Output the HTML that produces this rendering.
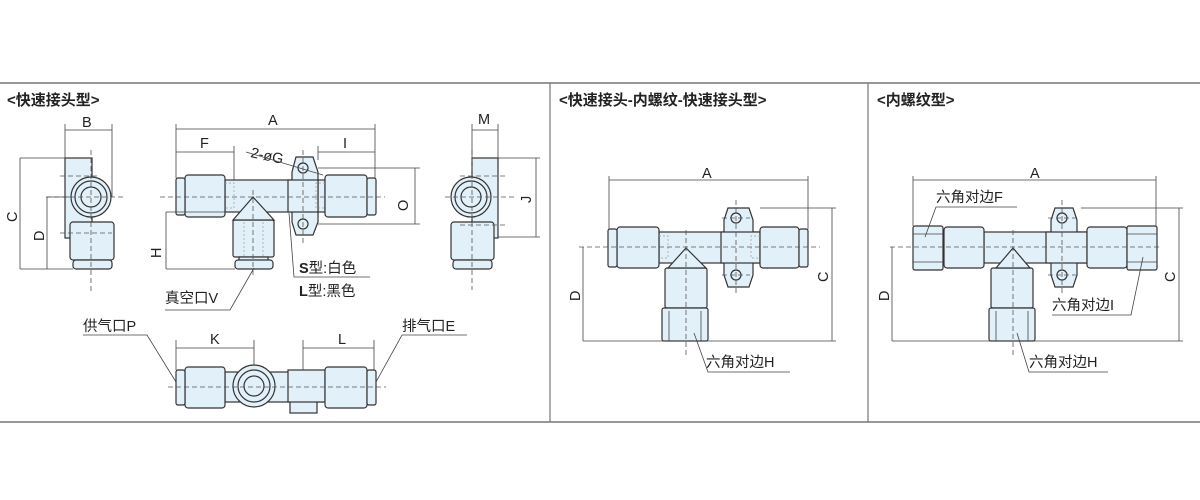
<!DOCTYPE html>
<html><head><meta charset="utf-8"><style>
html,body{margin:0;padding:0;background:#fff;}
svg{display:block}
text{font-family:"Liberation Sans","Noto Sans CJK SC",sans-serif;fill:#222;}
.t{font-size:15px;font-weight:bold}
.l{font-size:14.5px}
.p{fill:#e2f1f9;stroke:#333;stroke-width:1.2}
.d{stroke:#444;stroke-width:0.8;fill:none}
.c{stroke:#555;stroke-width:0.8;stroke-dasharray:5,3;fill:none}
.h{stroke:#999;stroke-width:0.7;stroke-dasharray:2,2;fill:none}
</style></head><body>
<svg width="1200" height="500" viewBox="0 0 1200 500">
<rect width="1200" height="500" fill="#fff"/>
<line x1="0" y1="83" x2="1200" y2="83" stroke="#777" stroke-width="1.5"/>
<line x1="0" y1="422" x2="1200" y2="422" stroke="#777" stroke-width="1.5"/>
<line x1="550" y1="83" x2="550" y2="422" stroke="#777" stroke-width="1.2"/>
<line x1="868" y1="83" x2="868" y2="422" stroke="#777" stroke-width="1.2"/>
<text class="t" x="7" y="105">&lt;快速接头型&gt;</text>
<text class="t" x="559" y="105">&lt;快速接头-内螺纹-快速接头型&gt;</text>
<text class="t" x="877" y="105">&lt;内螺纹型&gt;</text>

<!-- Panel1 left side view -->
<rect class="p" x="65" y="158" width="27" height="80"/>
<rect class="p" x="70" y="222" width="44" height="38" rx="3"/>
<rect class="p" x="73" y="260" width="39" height="9" rx="3"/>
<circle class="p" cx="91" cy="197" r="20"/>
<circle class="p" cx="91" cy="197" r="16"/>
<circle class="p" cx="91" cy="197" r="10"/>
<line class="c" x1="46" y1="197" x2="124" y2="197"/>
<line class="c" x1="91" y1="150" x2="91" y2="292"/>
<line class="c" x1="60" y1="176" x2="100" y2="176"/>
<line class="c" x1="60" y1="233" x2="112" y2="233"/>
<path class="d" d="M65 158V124M112 197V124M65 130H112M20 158H65M20 269H73M20 158V269M47 197H70M47 197V269"/>
<text class="l" x="82" y="127">B</text>
<text class="l" transform="translate(17,222) rotate(-90)">C</text>
<text class="l" transform="translate(44,241) rotate(-90)">D</text>

<!-- Panel1 main view -->
<rect class="p" x="225" y="180" width="100" height="32"/>
<polygon class="p" points="296,157 313,157 318,172 318,222 313,235 296,235 292,222 292,172"/>
<rect class="p" x="288" y="180" width="30" height="32"/>
<circle class="p" cx="303" cy="168" r="5"/><circle class="p" cx="303" cy="224" r="5"/>
<rect class="p" x="185" y="175" width="40" height="42" rx="3"/>
<rect class="p" x="176" y="178" width="9" height="37" rx="2"/>
<rect class="p" x="325" y="175" width="42" height="42" rx="3"/>
<rect class="p" x="367" y="178" width="9" height="37" rx="2"/>
<rect class="p" x="233" y="220" width="41" height="37" rx="2"/>
<polygon class="p" points="253,197 233,220 274,220"/>
<rect class="p" x="239" y="257" width="29" height="4"/>
<rect class="p" x="235" y="260" width="38" height="9" rx="3"/>
<path class="h" d="M225 183H234V208H225M325 183H316V208H325M244 222V256M263 222V256"/>
<line class="c" x1="160" y1="197" x2="385" y2="197"/>
<line class="c" x1="253" y1="190" x2="253" y2="277"/>
<line class="c" x1="303" y1="150" x2="303" y2="244"/>
<path class="d" d="M176 178V124M375 178V124M176 129H375M234 180V146M176 152H234M318 160V146M375 152H318M318 168H420M318 224H420M415 168V224M166 212H225M166 269H235M166 212V269"/>
<text class="l" x="268" y="125">A</text>
<text class="l" x="200" y="148">F</text>
<text class="l" x="343" y="148">I</text>
<text class="l" transform="translate(408,211) rotate(-90)">O</text>
<text class="l" transform="translate(161,258) rotate(-90)">H</text>
<text class="l" transform="translate(250,157) rotate(12)">2-øG</text>
<path class="d" d="M246 152L323 175"/>
<path class="d" d="M289 213L294 277H370"/>
<text class="l" x="299" y="273"><tspan font-weight="bold">S</tspan>型:白色</text>
<text class="l" x="299" y="296"><tspan font-weight="bold">L</tspan>型:黑色</text>
<path class="d" d="M254 268L230 310H165"/>
<text class="l" x="165" y="303">真空口V</text>

<!-- Panel1 right side view -->
<rect class="p" x="472" y="158" width="26" height="80"/>
<rect class="p" x="451" y="222" width="43" height="38" rx="3"/>
<rect class="p" x="453" y="260" width="39" height="9" rx="3"/>
<circle class="p" cx="471" cy="197" r="20"/>
<circle class="p" cx="471" cy="197" r="16"/>
<circle class="p" cx="471" cy="197" r="10"/>
<line class="c" x1="445" y1="197" x2="515" y2="197"/>
<line class="c" x1="472" y1="150" x2="472" y2="290"/>
<line class="c" x1="460" y1="176" x2="505" y2="176"/>
<line class="c" x1="460" y1="225" x2="505" y2="225"/>
<path class="d" d="M472 158V124M498 158V124M472 130H498M498 158H540M498 237H540M536 158V237"/>
<text class="l" x="478" y="124">M</text>
<text class="l" transform="translate(531,203) rotate(-90)">J</text>

<!-- Panel1 bottom view -->
<rect class="p" x="225" y="372" width="100" height="30"/>
<rect class="p" x="290" y="387" width="27" height="26"/>
<rect class="p" x="288" y="370" width="37" height="32"/>
<rect class="p" x="185" y="367" width="40" height="41" rx="3"/>
<rect class="p" x="176" y="370" width="9" height="35" rx="2"/>
<rect class="p" x="325" y="367" width="42" height="41" rx="3"/>
<rect class="p" x="367" y="370" width="9" height="35" rx="2"/>
<circle class="p" cx="254" cy="386" r="21"/>
<circle class="p" cx="254" cy="386" r="16"/>
<circle class="p" cx="254" cy="386" r="10"/>
<line class="c" x1="168" y1="387" x2="386" y2="387"/>
<path class="d" d="M176 370V340M254 365V340M176 348H254M303 370V340M374 370V340M303 348H374"/>
<text class="l" x="210" y="344">K</text>
<text class="l" x="338" y="344">L</text>
<path class="d" d="M83 335H147L176 382M467 335H402L376 382"/>
<text class="l" x="83" y="331">供气口P</text>
<text class="l" x="402" y="331">排气口E</text>

<!-- Panel2 -->
<rect class="p" x="659" y="232" width="101" height="31"/>
<polygon class="p" points="728,208 749,208 753,220 753,275 749,287 728,287 724,275 724,220"/>
<rect class="p" x="721" y="232" width="39" height="31"/>
<circle class="p" cx="736" cy="218" r="5"/><circle class="p" cx="736" cy="275" r="5"/>
<rect class="p" x="617" y="227" width="42" height="41" rx="3"/>
<rect class="p" x="608" y="229" width="9" height="38" rx="2"/>
<rect class="p" x="760" y="227" width="39" height="41" rx="3"/>
<rect class="p" x="799" y="229" width="9" height="38" rx="2"/>
<rect class="p" x="665" y="268" width="42" height="40" rx="2"/>
<polygon class="p" points="686,248 668,268 706,268"/>
<rect class="p" x="662" y="308" width="46" height="33" rx="2"/>
<path class="d" d="M669 311V341M701 311V341"/>
<path class="h" d="M659 236H668V258H659M760 236H751V258H760"/>
<line class="c" x1="579" y1="247" x2="820" y2="247"/>
<line class="c" x1="686" y1="230" x2="686" y2="355"/>
<line class="c" x1="736" y1="200" x2="736" y2="295"/>
<line class="c" x1="722" y1="218" x2="750" y2="218"/><line class="c" x1="722" y1="275" x2="750" y2="275"/>
<path class="d" d="M609 229V176M808 229V176M609 180H808M583 341H836M583 247V341M760 208H836M832 208V341"/>
<text class="l" x="702" y="178">A</text>
<text class="l" transform="translate(580,301) rotate(-90)">D</text>
<text class="l" transform="translate(828,282) rotate(-90)">C</text>
<path class="d" d="M694 333L708 372H790"/>
<text class="l" x="706" y="367">六角对边H</text>

<!-- Panel3 -->
<rect class="p" x="984" y="232" width="103" height="31"/>
<polygon class="p" points="1055,208 1073,208 1077,220 1077,275 1073,287 1055,287 1051,275 1051,220"/>
<rect class="p" x="1046" y="232" width="41" height="31"/>
<circle class="p" cx="1062" cy="218" r="5"/><circle class="p" cx="1062" cy="275" r="5"/>
<rect class="p" x="944" y="227" width="40" height="41" rx="3"/>
<rect class="p" x="913" y="226" width="30" height="44" rx="2"/>
<rect class="p" x="1087" y="227" width="40" height="41" rx="3"/>
<rect class="p" x="1127" y="226" width="30" height="44" rx="2"/>
<path class="d" d="M913 234H943M913 262H943M1127 234H1157M1127 262H1157"/>
<rect class="p" x="991" y="268" width="42" height="40" rx="2"/>
<polygon class="p" points="1013,248 996,268 1030,268"/>
<rect class="p" x="989" y="308" width="46" height="33" rx="2"/>
<path class="d" d="M996 311V341M1028 311V341"/>
<line class="c" x1="890" y1="247" x2="1160" y2="247"/>
<line class="c" x1="1013" y1="230" x2="1013" y2="355"/>
<line class="c" x1="1062" y1="200" x2="1062" y2="295"/>
<line class="c" x1="1048" y1="218" x2="1076" y2="218"/><line class="c" x1="1048" y1="275" x2="1076" y2="275"/>
<path class="d" d="M913 226V176M1156 226V176M913 180H1156M892 341H1183M892 247V341M1081 208H1183M1179 208V341"/>
<text class="l" x="1030" y="178">A</text>
<text class="l" transform="translate(889,301) rotate(-90)">D</text>
<text class="l" transform="translate(1175,282) rotate(-90)">C</text>
<path class="d" d="M1017 207H936L925 237"/>
<text class="l" x="936" y="202">六角对边F</text>
<path class="d" d="M1052 315H1131L1143 257"/>
<text class="l" x="1052" y="310">六角对边I</text>
<path class="d" d="M1017 333L1029 372H1108"/>
<text class="l" x="1029" y="367">六角对边H</text>
</svg>
</body></html>
